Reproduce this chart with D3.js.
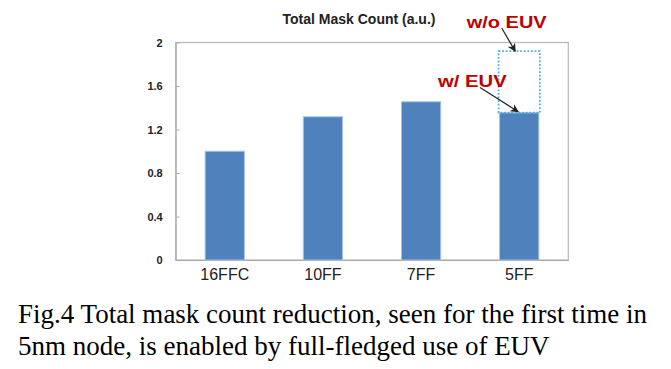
<!DOCTYPE html>
<html>
<head>
<meta charset="utf-8">
<script src="https://cdn.jsdelivr.net/npm/d3@7/dist/d3.min.js"></script>
<style>
  body { margin: 0; background: #fff; }
  svg { display: block; }
</style>
</head>
<body>
<svg id="chart"></svg>
<script>
// data
const nodes = ["16FFC", "10FF", "7FF", "5FF"];
const maskCount = [1.0, 1.317, 1.455, 1.354];     // w/ EUV
const withoutEuv = [null, null, null, 1.92];        // only 5FF shown w/o EUV
const yTicks = [0, 0.4, 0.8, 1.2, 1.6, 2];
const captionLines = [
  "Fig.4 Total mask count reduction, seen for the first time in",
  "5nm node, is enabled by full-fledged use of EUV"
];

const W = 671, H = 369;
const MARGIN = { left: 175.7, top: 42.5, right: 102.7, bottom: 109 };

const svg = d3.select("#chart").attr("width", W).attr("height", H);

const x = d3.scaleBand()
  .domain(nodes)
  .range([MARGIN.left, W - MARGIN.right])
  .paddingInner(0.6)
  .paddingOuter(0.3);

const y = d3.scaleLinear()
  .domain([0, 2])
  .range([H - MARGIN.bottom, MARGIN.top]);

// plot frame
svg.append("rect")
  .attr("x", MARGIN.left)
  .attr("y", MARGIN.top)
  .attr("width", W - MARGIN.right - MARGIN.left)
  .attr("height", y(0) - y(2))
  .attr("fill", "none")
  .attr("stroke", "#b8b8b8")
  .attr("stroke-width", 1.2);

// y axis, ticks pointing into the plot
const yAxis = svg.append("g")
  .attr("transform", `translate(${MARGIN.left},0)`)
  .call(d3.axisLeft(y).tickValues(yTicks).tickSizeInner(-4).tickSizeOuter(0).tickPadding(13)
    .tickFormat(d => d3.format("")(d)));
yAxis.select(".domain").attr("stroke", "#a8a8a8");
yAxis.selectAll(".tick line").attr("stroke", "#b0b0b0");
yAxis.selectAll(".tick text")
  .attr("font-family", "Arial, 'Liberation Sans', sans-serif")
  .attr("font-size", 11)
  .attr("font-weight", "bold")
  .attr("fill", "#222");

// x axis labels
const xAxis = svg.append("g")
  .attr("transform", `translate(0,${y(0)})`)
  .call(d3.axisBottom(x).tickSize(0).tickPadding(9));
xAxis.select(".domain").attr("stroke", "#a8a8a8");
xAxis.selectAll(".tick text")
  .attr("font-family", "Arial, 'Liberation Sans', sans-serif")
  .attr("font-size", 16)
  .attr("fill", "#222");

// bars
svg.selectAll(".bar")
  .data(nodes)
  .enter()
  .append("rect")
  .attr("class", "bar")
  .attr("x", d => x(d))
  .attr("y", (d, i) => y(maskCount[i]))
  .attr("width", x.bandwidth())
  .attr("height", (d, i) => y(0) - y(maskCount[i]))
  .attr("fill", "#4f81bd")
  .attr("stroke", "#a7c3e4")
  .attr("stroke-width", 1);

// dotted box showing count w/o EUV
svg.selectAll(".noeuv")
  .data(nodes.filter((d, i) => withoutEuv[i] != null))
  .enter()
  .append("rect")
  .attr("class", "noeuv")
  .attr("x", d => x(d) - 1)
  .attr("y", d => y(withoutEuv[nodes.indexOf(d)]))
  .attr("width", x.bandwidth() + 2)
  .attr("height", d => y(maskCount[nodes.indexOf(d)]) - y(withoutEuv[nodes.indexOf(d)]))
  .attr("fill", "none")
  .attr("stroke", "#4bb3d6")
  .attr("stroke-width", 1.8)
  .attr("stroke-dasharray", "1.8,1.8");

// title
svg.append("text")
  .attr("x", 359)
  .attr("y", 24)
  .attr("text-anchor", "middle")
  .attr("font-family", "Arial, 'Liberation Sans', sans-serif")
  .attr("font-size", 14)
  .attr("font-weight", "bold")
  .attr("fill", "#222")
  .text("Total Mask Count (a.u.)");

// annotations
svg.append("defs").append("marker")
  .attr("id", "head")
  .attr("viewBox", "0 0 10 10")
  .attr("refX", 9).attr("refY", 5)
  .attr("markerWidth", 7).attr("markerHeight", 7)
  .attr("orient", "auto")
  .append("path")
  .attr("d", "M0,0 L10,5 L0,10 L3,5 Z")
  .attr("fill", "#222");

const last = nodes[nodes.length - 1];
const lastIdx = nodes.length - 1;
const cx = x(last) + x.bandwidth() / 2;

svg.append("text")
  .attr("x", 466.7)
  .attr("y", 28.3)
  .attr("textLength", 80)
  .attr("lengthAdjust", "spacingAndGlyphs")
  .attr("font-family", "Arial, 'Liberation Sans', sans-serif")
  .attr("font-size", 17)
  .attr("font-weight", "bold")
  .attr("fill", "#c00000")
  .text("w/o EUV");

svg.append("text")
  .attr("x", 438)
  .attr("y", 87.3)
  .attr("textLength", 68.7)
  .attr("lengthAdjust", "spacingAndGlyphs")
  .attr("font-family", "Arial, 'Liberation Sans', sans-serif")
  .attr("font-size", 17)
  .attr("font-weight", "bold")
  .attr("fill", "#c00000")
  .text("w/ EUV");

svg.append("line")
  .attr("x1", 501.7).attr("y1", 28)
  .attr("x2", cx - 4).attr("y2", y(withoutEuv[lastIdx]))
  .attr("stroke", "#222").attr("stroke-width", 1.2)
  .attr("marker-end", "url(#head)");

svg.append("line")
  .attr("x1", 480).attr("y1", 87.5)
  .attr("x2", cx - 1).attr("y2", y(maskCount[lastIdx]) - 1)
  .attr("stroke", "#222").attr("stroke-width", 1.2)
  .attr("marker-end", "url(#head)");

// caption
svg.append("g")
  .selectAll("text")
  .data(captionLines)
  .enter()
  .append("text")
  .attr("x", 18)
  .attr("y", (d, i) => 323 + i * 32)
  .attr("font-family", "'Times New Roman', 'Liberation Serif', serif")
  .attr("font-size", 27)
  .attr("fill", "#000")
  .text(d => d);
</script>
</body>
</html>
